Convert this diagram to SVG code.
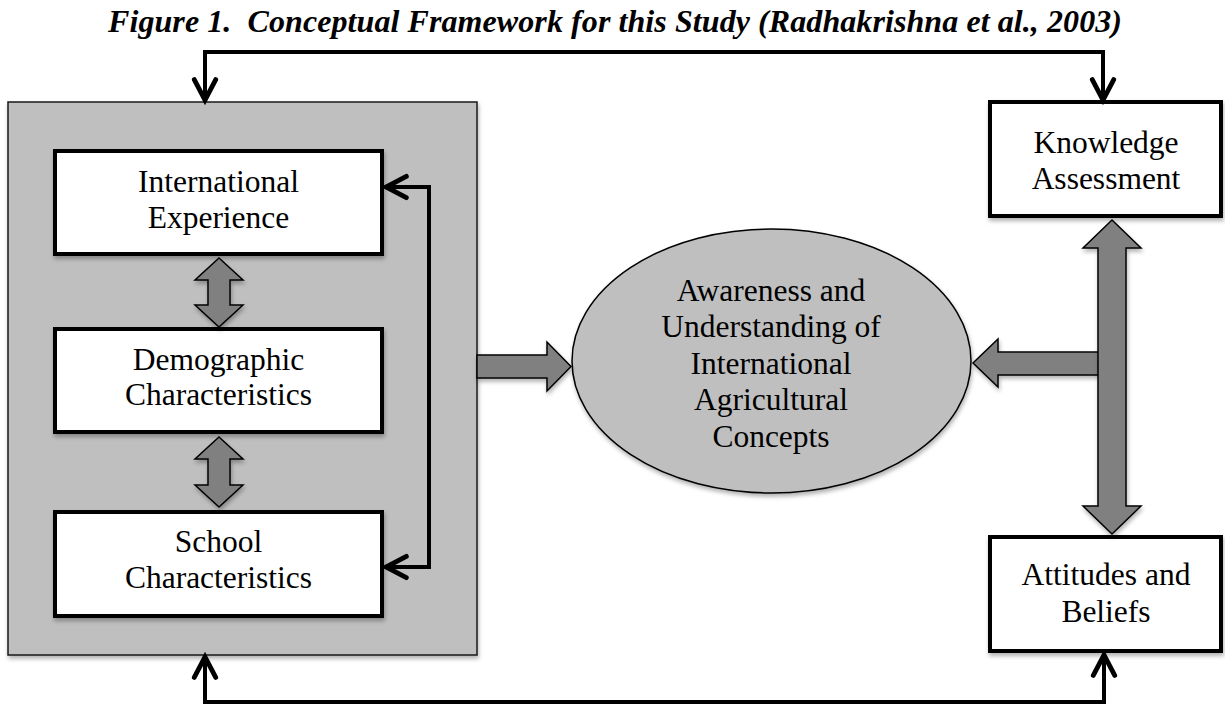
<svg xmlns="http://www.w3.org/2000/svg" width="1225" height="708" viewBox="0 0 1225 708">
<style>
  .title { font-family: "Liberation Serif", "Times New Roman", serif; font-size: 32px; font-weight: bold; font-style: italic; fill: #000; }
  .lbl { font-family: "Liberation Serif", "Times New Roman", serif; font-size: 31.5px; fill: #000; text-anchor: middle; }
  .box { fill: #fff; stroke: #000; stroke-width: 4; }
  .panel { fill: #bfbfbf; stroke: #1a1a1a; stroke-width: 1.5; }
  .ell { fill: #bfbfbf; stroke: #000; stroke-width: 1.5; }
  .fat { fill: #808080; stroke: #000; stroke-width: 1.5; stroke-linejoin: miter; }
  .line { fill: none; stroke: #000; stroke-width: 4; stroke-linejoin: miter; }
  .sh { filter: url(#shadow); }
</style>
<defs>
  <filter id="shadow" x="-10%" y="-10%" width="120%" height="125%">
    <feDropShadow dx="1" dy="3" stdDeviation="2" flood-color="#000" flood-opacity="0.3"/>
  </filter>
  <marker id="chev" markerUnits="userSpaceOnUse" markerWidth="30" markerHeight="30" viewBox="-24 -14 28 28" refX="0" refY="0" orient="auto-start-reverse" overflow="visible">
    <path d="M-19,-10 L0,0 L-19,10" fill="none" stroke="#000" stroke-width="4.5" stroke-linecap="round" stroke-linejoin="miter"/>
  </marker>
</defs>

<text class="title" x="108" y="32" xml:space="preserve" textLength="1014" lengthAdjust="spacing">Figure 1.  Conceptual Framework for this Study (Radhakrishna et al., 2003)</text>

<g id="panel">
  <rect class="panel sh" x="8" y="102" width="469" height="553"/>
</g>

<g id="international-experience">
  <rect class="box sh" x="55" y="151" width="327" height="103"/>
  <text class="lbl" x="218.5" y="192">International</text>
  <text class="lbl" x="218.5" y="228">Experience</text>
</g>

<g id="demographic-characteristics">
  <rect class="box sh" x="55" y="329" width="327" height="103"/>
  <text class="lbl" x="218.5" y="370">Demographic</text>
  <text class="lbl" x="218.5" y="405">Characteristics</text>
</g>

<g id="school-characteristics">
  <rect class="box sh" x="55" y="512" width="327" height="104"/>
  <text class="lbl" x="218.5" y="552">School</text>
  <text class="lbl" x="218.5" y="588">Characteristics</text>
</g>

<g id="awareness">
  <ellipse class="ell sh" cx="771.5" cy="361" rx="199.5" ry="132"/>
  <text class="lbl" x="771" y="301">Awareness and</text>
  <text class="lbl" x="771" y="337">Understanding of</text>
  <text class="lbl" x="771" y="374">International</text>
  <text class="lbl" x="771" y="410">Agricultural</text>
  <text class="lbl" x="771" y="447">Concepts</text>
</g>

<g id="knowledge-assessment">
  <rect class="box sh" x="990" y="102" width="231" height="114"/>
  <text class="lbl" x="1106" y="153">Knowledge</text>
  <text class="lbl" x="1106" y="189">Assessment</text>
</g>

<g id="attitudes-beliefs">
  <rect class="box sh" x="990" y="537" width="231" height="114"/>
  <text class="lbl" x="1106" y="585">Attitudes and</text>
  <text class="lbl" x="1106" y="622">Beliefs</text>
</g>

<g id="connectors">
  <path class="fat sh" d="M219,258 L243,280 L230,280 L230,305 L243,305 L219,327 L195,305 L208,305 L208,280 L195,280 Z"/>
  <path class="fat sh" d="M219,437 L243,459 L230,459 L230,485 L243,485 L219,507 L195,485 L208,485 L208,459 L195,459 Z"/>
  <path class="fat sh" d="M477,355 H547 V342 L571,366.5 L547,391 V378 H477 Z"/>
  <path class="fat sh" d="M1099,352 H998 V339 L973,363 L998,387 V375 H1099 Z"/>
  <path class="fat sh" d="M1112,220 L1141,248 L1126,248 L1126,506 L1141,506 L1112,534 L1083,506 L1098,506 L1098,248 L1083,248 Z"/>
  <path class="line" d="M386,187 H429 V567 H386" marker-start="url(#chev)" marker-end="url(#chev)"/>
  <path class="line" d="M205,100 V52 H1103 V100" marker-start="url(#chev)" marker-end="url(#chev)"/>
  <path class="line" d="M205,657 V702 H1104 V655" marker-start="url(#chev)" marker-end="url(#chev)"/>
</g>
</svg>
